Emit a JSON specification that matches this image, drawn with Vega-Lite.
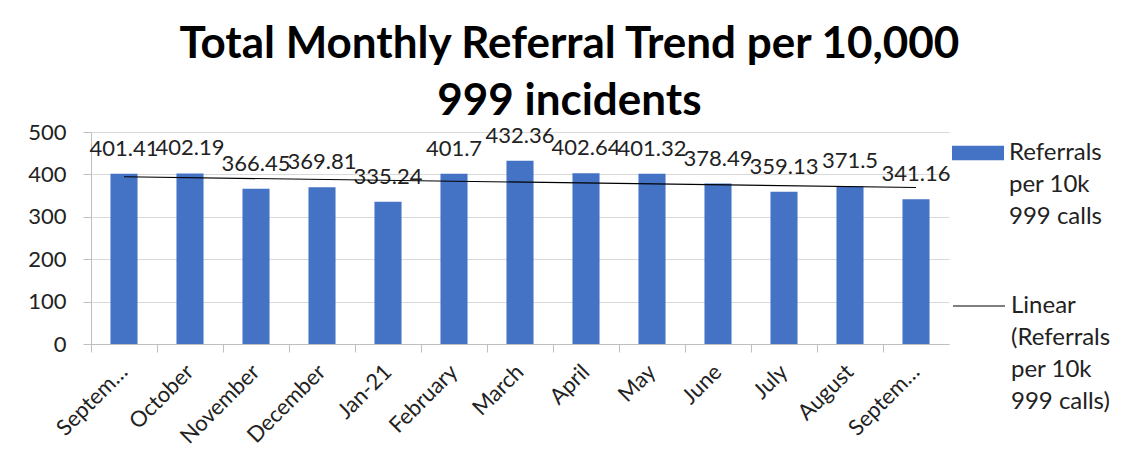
{
  "$schema": "https://vega.github.io/schema/vega-lite/v6.json",
  "width": 858,
  "height": 212,
  "padding": {"left": 27, "top": 23, "right": 5, "bottom": 2},
  "background": "white",
  "datasets": {
    "d": [
      {"month": "September 2020", "n": 1, "value": 401.41},
      {"month": "October", "n": 2, "value": 402.19},
      {"month": "November", "n": 3, "value": 366.45},
      {"month": "December", "n": 4, "value": 369.81},
      {"month": "Jan-21", "n": 5, "value": 335.24},
      {"month": "February", "n": 6, "value": 401.7},
      {"month": "March", "n": 7, "value": 432.36},
      {"month": "April", "n": 8, "value": 402.64},
      {"month": "May", "n": 9, "value": 401.32},
      {"month": "June", "n": 10, "value": 378.49},
      {"month": "July", "n": 11, "value": 359.13},
      {"month": "August", "n": 12, "value": 371.5},
      {"month": "September 2021", "n": 13, "value": 341.16}
    ]
  },
  "data": {"name": "d"},
  "title": {
    "text": ["Total Monthly Referral Trend per 10,000", "999 incidents"],
    "font": "Lato",
    "fontSize": 44,
    "fontWeight": "bold",
    "lineHeight": 57,
    "anchor": "middle",
    "frame": "bounds",
    "color": "black",
    "offset": -3
  },
  "config": {
    "view": {"stroke": null},
    "font": "Lato",
    "style": {"guide-label": {"lineHeight": 32}},
    "axis": {
      "labelFont": "Lato",
      "labelFontSize": 22,
      "labelColor": "#222222",
      "domainColor": "#bfbfbf",
      "tickColor": "#bfbfbf",
      "gridColor": "#d9d9d9",
      "tickSize": 8,
      "title": null
    }
  },
  "encoding": {
    "x": {
      "field": "month",
      "type": "nominal",
      "sort": null,
      "scale": {"paddingInner": 0, "paddingOuter": 0},
      "axis": {
        "labelAngle": -45,
        "bandPosition": 0,
        "grid": false,
        "labelPadding": 16,
        "labelBaseline": "middle",
        "labelExpr": "indexof(datum.label, 'September') === 0 ? 'Septem…' : datum.label"
      }
    },
    "y": {
      "field": "value",
      "type": "quantitative",
      "scale": {"domain": [0, 500]},
      "axis": {"values": [0, 100, 200, 300, 400, 500], "labelPadding": 17, "grid": true}
    }
  },
  "layer": [
    {
      "mark": {"type": "bar", "width": {"band": 0.41}},
      "encoding": {
        "fill": {
          "datum": "Referrals per 10k 999 calls",
          "scale": {"range": ["#4472C4"]},
          "legend": {
            "orient": "none",
            "legendX": 861,
            "legendY": -5,
            "title": null,
            "symbolType": "M-1,-0.28L1,-0.28L1,0.28L-1,0.28Z",
            "symbolSize": 2704,
            "symbolStrokeWidth": 0,
            "labelFontSize": 24,
            "labelColor": "#222222",
            "labelBaseline": "middle",
            "labelOffset": 5,
            "labelLimit": 200,
            "labelExpr": "['Referrals', 'per 10k', '999 calls']"
          }
        }
      }
    },
    {
      "mark": {"type": "text", "baseline": "alphabetic", "dy": -18, "fontSize": 22, "color": "#222222", "font": "Lato"},
      "encoding": {"text": {"field": "value", "type": "nominal"}}
    },
    {
      "transform": [
        {"regression": "value", "on": "n"},
        {"lookup": "n", "from": {"data": {"name": "d"}, "key": "n", "fields": ["month"]}}
      ],
      "mark": {"type": "line", "strokeWidth": 1.2},
      "encoding": {
        "stroke": {
          "datum": "Linear (Referrals per 10k 999 calls)",
          "scale": {"range": ["black"]},
          "legend": {
            "orient": "none",
            "legendX": 861,
            "legendY": 147,
            "title": null,
            "symbolType": "stroke",
            "symbolSize": 2704,
            "symbolStrokeWidth": 1.2,
            "labelFontSize": 24,
            "labelColor": "#222222",
            "labelBaseline": "middle",
            "labelOffset": 5,
            "labelLimit": 200,
            "labelExpr": "['Linear', '(Referrals', 'per 10k', '999 calls)']"
          }
        }
      }
    }
  ]
}
